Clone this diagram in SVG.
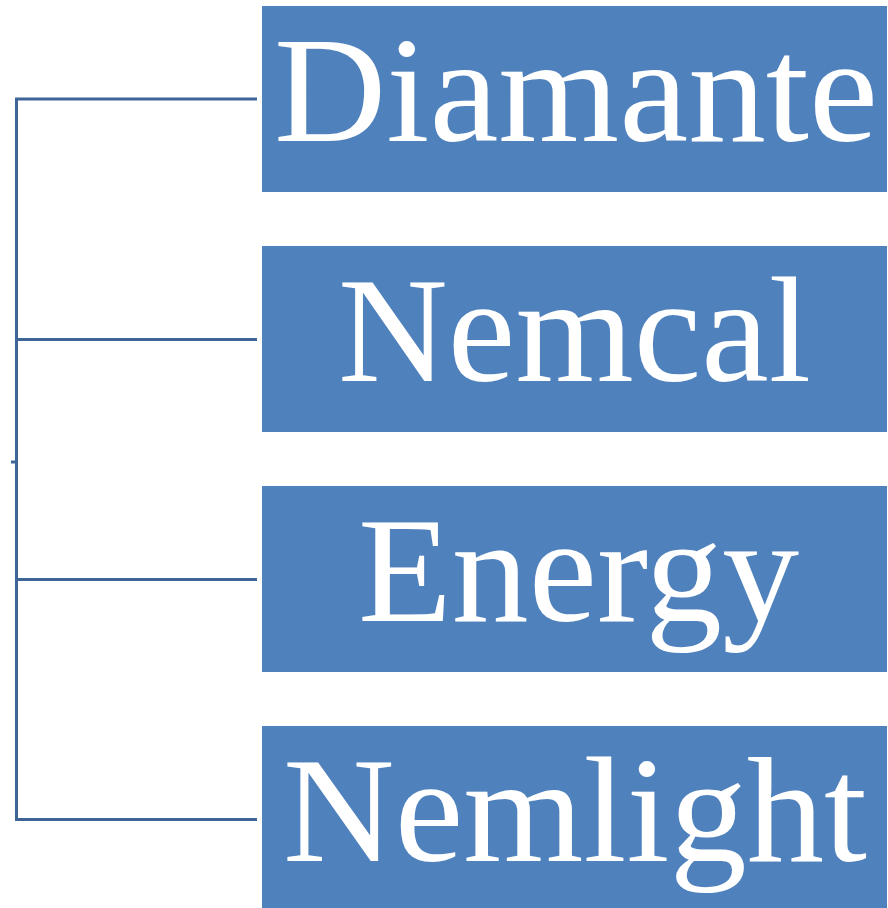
<svg xmlns="http://www.w3.org/2000/svg" width="888" height="908" viewBox="0 0 888 908">
<style>
.box{fill:#4F81BD;}
.lbl{font-family:"Liberation Serif","DejaVu Serif",serif;font-size:150px;fill:#FFFFFF;text-anchor:middle;}
.conn{fill:none;stroke:#3E6598;stroke-width:3;}
</style>
<rect width="888" height="908" fill="#FFFFFF"/>
<g id="connectors">
<path class="conn" d="M257,99 H16.5 V819.5 H257"/>
<path class="conn" d="M16.5,339.5 H257"/>
<path class="conn" d="M16.5,579.5 H257"/>
<path class="conn" d="M11,462 H16.5"/>
</g>
<g id="node-diamante">
<rect class="box" x="262" y="6" width="625" height="186"/>
<text class="lbl" x="576" y="140.5" textLength="604" lengthAdjust="spacingAndGlyphs">Diamante</text>
</g>
<g id="node-nemcal">
<rect class="box" x="262" y="246" width="625" height="186"/>
<text class="lbl" x="574.5" y="380.5" textLength="473" lengthAdjust="spacingAndGlyphs">Nemcal</text>
</g>
<g id="node-energy">
<rect class="box" x="262" y="486" width="625" height="186"/>
<text class="lbl" x="578.5" y="620.5" textLength="441" lengthAdjust="spacingAndGlyphs">Energy</text>
</g>
<g id="node-nemlight">
<rect class="box" x="262" y="726" width="625" height="182"/>
<text class="lbl" x="575" y="860.5" textLength="584" lengthAdjust="spacingAndGlyphs">Nemlight</text>
</g>
</svg>
